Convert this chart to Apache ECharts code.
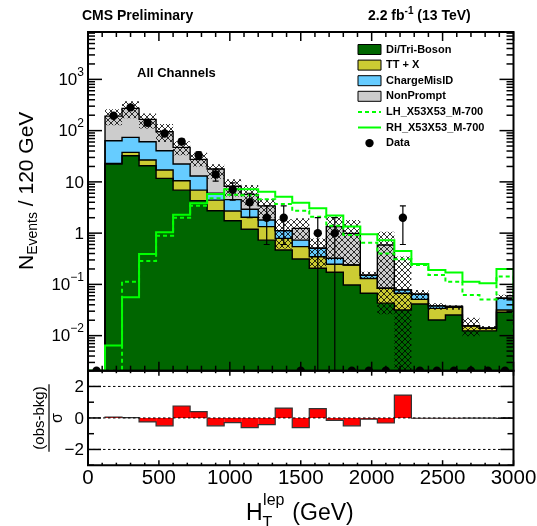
<!DOCTYPE html>
<html>
<head>
<meta charset="utf-8">
<script src="https://cdn.jsdelivr.net/npm/echarts@6.0.0/dist/echarts.min.js"></script>
<style>html,body{margin:0;padding:0;background:#fff;}#chart{width:537px;height:526px;}</style>
</head>
<body>
<div id="chart"></div>
<script>
// ---------------- data ----------------
const binEdges = [0,120,240,360,480,600,720,840,960,1080,1200,1320,1440,1560,1680,1800,1920,2040,2160,2280,2400,2520,2640,2760,2880,3000];
const diBoson     = [0,22.3,32.4,20.6,11.7,6.9,4.3,2.74,1.75,1.19,0.73,0.47,0.313,0.206,0.172,0.0975,0.067,0.043,0.0317,0.0415,0.0202,0.0253,0.0124,0.0124,0.0286];
const ttX         = [0,0.7,5.3,6.1,5.3,3.6,2.6,1.66,0.95,0.85,0.61,0.32,0.232,0.141,0.075,0.1415,0.063,0.041,0.0353,0.0095,0.0138,0.0104,0.0031,0.0015,0.0031];
const chargeMisID = [0,40.5,36.3,34,23.5,11.8,6.1,1.6,1.8,0.88,0.46,0.33,0.185,0.159,0.076,0,0.021,0,0.011,0.013,0.004,0.0013,0,0,0.0219];
const nonPrompt   = [0,128.5,198,105.3,54.5,24.9,14.5,11.8,3.7,2.78,1.6,0,0.51,0,1.017,0.751,0,0.503,0,0,0,0,0,0,0];
const bandLow     = [0,128,175,110,60,33,20,11.5,5.2,3.5,2.0,0.5,0.75,0.21,0.3,0.24,0.13,0.026,0,0.05,0.032,0.032,0.0097,0.013,0.05];
const bandHigh    = [0,260,375,215,135,62,37,22,11.3,8.7,4.6,1.86,1.95,0.79,2.1,1.8,0.177,1.07,0.35,0.078,0.043,0.039,0.0223,0.0155,0.0625];
const dataObs     = [0,195,284,142,88,61,33,14,7,4,2,2,0,1,1,0,0,0,2,0,0,0,0,0,0];
const dataErr     = [0,14,16.9,11.9,9.4,7.8,5.7,3.7,2.6,2,1.4,1.4,0,1,1,0,0,0,1.4,0,0,0,0,0,0];
const lhSignal    = [0,0,0.113,0.286,0.89,2.0,3.43,4.8,5.6,5.5,4.6,3.7,2.74,2.09,1.4,0.92,0.65,0.40,0.31,0.24,0.153,0.113,0.062,0.051,0.142];
const rhSignal    = [0,0.0064,0.056,0.39,1.04,2.29,3.82,5.8,7.2,7.2,6.4,5.1,3.9,3.05,2.2,1.34,0.95,0.73,0.45,0.25,0.19,0.17,0.113,0.105,0.2];
const pull        = [0,0.06,0.02,-0.25,-0.5,0.76,0.4,-0.5,-0.3,-0.61,-0.42,0.63,-0.61,0.59,-0.15,-0.5,-0.08,-0.32,1.45,-0.02,-0.02,-0.02,-0.01,-0.01,-0.03];

const xMajorTicks = [0,500,1000,1500,2000,2500,3000];
const xTickLabels = ['0','500','1000','1500','2000','2500','3000'];
const yMajorTicks = [0.01,0.1,1,10,100,1000];
const yTickBase   = ['10','10','1','10','10','10'];
const yTickExp    = ['\u22122','\u22121','','','2','3'];
const pullTicks   = [-2,0,2];
const pullMinor   = [-3,-1,1,3];
const pullLabels  = ['\u22122','0','2'];
const legendNames = ['Di/Tri-Boson','TT + X','ChargeMisID','NonPrompt','LH_X53X53_M-700','RH_X53X53_M-700','Data'];

// ---------------- helpers ----------------
const FONT = '"Liberation Sans", Arial, Helvetica, sans-serif';
const YMIN = 0.00207, YMAX = 8400;
const COL = {green:'#006600', yellow:'#cccc33', blue:'#66ccff', gray:'#cccccc', sig:'#00ff00'};
const mctx = document.createElement('canvas').getContext('2d');
function fnt(size, bold){ return (bold ? 'bold ' : '') + size + 'px ' + FONT; }
function tw(t, size, bold){ mctx.font = fnt(size, bold); return mctx.measureText(t).width; }
function ln(x1,y1,x2,y2,w,c,dash){ const s={stroke:c||'#000', lineWidth:w||1.5}; if(dash) s.lineDash=dash; return {type:'line', shape:{x1,y1,x2,y2}, style:s}; }
function tx(text,x,y,size,bold,align,va){ return {type:'text', x:x, y:y, style:{text:text, font:fnt(size,bold), fill:'#000', align:align||'left', verticalAlign:va||'middle', textAlign:align||'left', textVerticalAlign:va||'middle'}}; }

const hc = document.createElement('canvas'); hc.width = 6; hc.height = 6;
const hx = hc.getContext('2d'); hx.strokeStyle = '#000'; hx.lineWidth = 0.8;
hx.beginPath(); hx.moveTo(-1,-1); hx.lineTo(7,7); hx.moveTo(-1,7); hx.lineTo(7,-1); hx.stroke();
const hatch = {image: hc, repeat: 'repeat'};

const levelG   = diBoson.map(v => v);
const levelGY  = diBoson.map((v,i) => v + ttX[i]);
const levelGYB = levelGY.map((v,i) => v + chargeMisID[i]);
const levelT   = levelGYB.map((v,i) => v + nonPrompt[i]);
const stackLevels = [levelT, levelGYB, levelGY, levelG];
const stackColors = [COL.gray, COL.blue, COL.yellow, COL.green];
const clampY = v => Math.min(Math.max(v, YMIN), YMAX);

function stepPoints(api, arr, from){
  const pts = [api.coord([binEdges[from], YMIN])];
  for (let i = from; i < arr.length; i++){
    const y = clampY(arr[i]);
    pts.push(api.coord([binEdges[i], y]), api.coord([binEdges[i+1], y]));
  }
  pts.push(api.coord([binEdges[arr.length], YMIN]));
  return pts;
}

// ---------------- chart ----------------
const chart = echarts.init(document.getElementById('chart'), null, {renderer:'canvas', width:537, height:526});
const series = [];

// stacked fills
series.push({type:'custom', xAxisIndex:0, yAxisIndex:0, clip:true, z:2, silent:true,
  data: stackLevels.map((l,k)=>[k]),
  renderItem:(p, api)=>({type:'polygon', shape:{points: stepPoints(api, stackLevels[p.dataIndex], 1)}, style:{fill: stackColors[p.dataIndex]}})
});
// uncertainty band
series.push({type:'custom', xAxisIndex:0, yAxisIndex:0, clip:true, z:3, silent:true,
  data: bandLow.map((lo,i)=>[binEdges[i], binEdges[i+1], lo, bandHigh[i]]),
  renderItem:(p, api)=>{
    const hi = api.value(3); if (!(hi > 0)) return {type:'group', children:[]};
    const a = api.coord([api.value(0), clampY(api.value(2))]);
    const b = api.coord([api.value(1), clampY(hi)]);
    return {type:'rect', shape:{x:a[0], y:b[1], width:b[0]-a[0], height:a[1]-b[1]}, style:{fill: hatch}};
  }
});
// stack outlines
series.push({type:'custom', xAxisIndex:0, yAxisIndex:0, clip:true, z:4, silent:true,
  data: stackLevels.map((l,k)=>[k]),
  renderItem:(p, api)=>({type:'polyline', shape:{points: stepPoints(api, stackLevels[p.dataIndex], 1)}, style:{stroke:'#000', lineWidth:1.4, fill:null}})
});
// signals
const signals = [lhSignal, rhSignal];
series.push({type:'custom', xAxisIndex:0, yAxisIndex:0, clip:true, z:5, silent:true,
  data: signals.map((s,k)=>[k]),
  renderItem:(p, api)=>{
    const st = {stroke: COL.sig, lineWidth: 2, fill: null};
    if (p.dataIndex === 0) st.lineDash = [4,3];
    return {type:'polyline', shape:{points: stepPoints(api, signals[p.dataIndex], 0)}, style: st};
  }
});
// data points
series.push({type:'custom', xAxisIndex:0, yAxisIndex:0, clip:true, z:6, silent:true,
  data: dataObs.map((n,i)=>[(binEdges[i]+binEdges[i+1])/2, n, dataErr[i]]),
  renderItem:(p, api)=>{
    const x = api.value(0), n = api.value(1), e = api.value(2);
    const ch = [];
    if (n > 0){
      const c = api.coord([x, n]);
      const hiP = api.coord([x, n + e]);
      const lo = n - e;
      const loP = api.coord([x, lo > YMIN ? lo : YMIN]);
      ch.push(ln(c[0], hiP[1], c[0], loP[1], 1.2));
      ch.push(ln(c[0]-3, hiP[1], c[0]+3, hiP[1], 1.2));
      if (lo > YMIN) ch.push(ln(c[0]-3, loP[1], c[0]+3, loP[1], 1.2));
      ch.push({type:'circle', shape:{cx:c[0], cy:c[1], r:4.2}, style:{fill:'#000'}});
    } else {
      const c = api.coord([x, YMIN]);
      ch.push({type:'circle', shape:{cx:c[0], cy:c[1], r:4.2}, style:{fill:'#000'}});
    }
    return {type:'group', children: ch};
  }
});
// top frame, ticks, labels
series.push({type:'custom', xAxisIndex:0, yAxisIndex:0, clip:false, z:10, silent:true,
  data: [[1500, 1]],
  renderItem:(p, api)=>{
    const bl = api.coord([0, YMIN]), tr = api.coord([3000, YMAX]);
    const L = bl[0], B = bl[1], R = tr[0], T = tr[1];
    const ch = [];
    yMajorTicks.forEach((v, k)=>{
      const y = api.coord([0, v])[1];
      ch.push(ln(L, y, L+14, y), ln(R, y, R-14, y));
      const right = L - 4;
      if (yTickExp[k]){
        const ws = tw(yTickExp[k], 12);
        ch.push(tx(yTickBase[k], right - ws, y + 1, 17, false, 'right'));
        ch.push(tx(yTickExp[k], right - ws, y - 7, 12, false, 'left'));
      } else {
        ch.push(tx(yTickBase[k], right, y + 1, 17, false, 'right'));
      }
    });
    for (let e = -3; e <= 3; e++){
      for (let m = 2; m <= 9; m++){
        const v = m * Math.pow(10, e);
        if (v <= YMIN || v >= YMAX) continue;
        const y = api.coord([0, v])[1];
        ch.push(ln(L, y, L+7, y), ln(R, y, R-7, y));
      }
    }
    for (let v = 0; v <= 3000; v += 100){
      const x = api.coord([v, YMIN])[0];
      const len = (v % 500 === 0) ? 9 : 5;
      ch.push(ln(x, T, x, T+len), ln(x, B, x, B-len));
    }
    ch.push({type:'rect', shape:{x:L, y:T, width:R-L, height:B-T}, style:{fill:null, stroke:'#000', lineWidth:2}});
    return {type:'group', children: ch};
  }
});
// ratio bars
series.push({type:'custom', xAxisIndex:1, yAxisIndex:1, clip:true, z:2, silent:true,
  data: pull.map((v,i)=>[binEdges[i], binEdges[i+1], v]),
  renderItem:(p, api)=>{
    const v = api.value(2); if (v === 0) return {type:'group', children:[]};
    const a = api.coord([api.value(0), 0]), b = api.coord([api.value(1), v]);
    return {type:'rect', shape:{x:a[0], y:Math.min(a[1],b[1]), width:b[0]-a[0], height:Math.abs(a[1]-b[1])}, style:{fill:'#ff0000'}};
  }
});
// ratio outline
series.push({type:'custom', xAxisIndex:1, yAxisIndex:1, clip:true, z:3, silent:true,
  data: [[0]],
  renderItem:(p, api)=>{
    const pts = [api.coord([binEdges[1], 0])];
    for (let i = 1; i < pull.length; i++){ pts.push(api.coord([binEdges[i], pull[i]]), api.coord([binEdges[i+1], pull[i]])); }
    return {type:'polyline', shape:{points: pts}, style:{stroke:'#333', lineWidth:1.2, fill:null}};
  }
});
// ratio frame
series.push({type:'custom', xAxisIndex:1, yAxisIndex:1, clip:false, z:10, silent:true,
  data: [[1500, 0]],
  renderItem:(p, api)=>{
    const bl = api.coord([0, -3]), tr = api.coord([3000, 3]);
    const L = bl[0], B = bl[1], R = tr[0], T = tr[1];
    const ch = [];
    pullTicks.forEach((v, k)=>{
      const y = api.coord([0, v])[1];
      ch.push(ln(L, y, R, y, 1, '#000', [2.5, 2.5]));
      ch.push(ln(L, y, L+13, y), ln(R, y, R-13, y));
      ch.push(tx(pullLabels[k], L - 4, y + 1, 17, false, 'right'));
    });
    pullMinor.forEach(v=>{
      const y = api.coord([0, v])[1];
      ch.push(ln(L, y, L+6, y), ln(R, y, R-6, y));
    });
    for (let v = 0; v <= 3000; v += 100){
      const x = api.coord([v, 0])[0];
      const len = (v % 500 === 0) ? 5 : 2.5;
      ch.push(ln(x, T, x, T+len), ln(x, B, x, B-len));
    }
    xMajorTicks.forEach((v, k)=>{
      const x = api.coord([v, 0])[0];
      ch.push(tx(xTickLabels[k], x, B + 3, 20.5, false, 'center', 'top'));
    });
    ch.push({type:'rect', shape:{x:L, y:T, width:R-L, height:B-T}, style:{fill:null, stroke:'#000', lineWidth:2}});
    return {type:'group', children: ch};
  }
});

// ---------------- text / legend graphics ----------------
const g = [];
g.push(tx('CMS Preliminary', 82, 16, 14, true, 'left'));
{
  let x = 368;
  const a = '2.2 fb', s = '-1', c = ' (13 TeV)';
  g.push(tx(a, x, 16, 14, true, 'left')); x += tw(a, 14, true);
  g.push(tx(s, x, 11, 10, true, 'left')); x += tw(s, 10, true);
  g.push(tx(c, x, 16, 14, true, 'left'));
}
g.push(tx('All Channels', 137, 73, 13, true, 'left'));
// legend
const legY = [49.5, 65.1, 80.7, 96.3, 111.9, 127.5, 143.1];
const legFill = [COL.green, COL.yellow, COL.blue, COL.gray];
legendNames.forEach((name, k)=>{
  const cy = legY[k];
  if (k < 4){
    g.push({type:'rect', shape:{x:358, y:cy-5, width:23, height:10}, style:{fill:legFill[k], stroke:'#000', lineWidth:1}});
  } else if (k < 6){
    const st = {stroke:COL.sig, lineWidth:2};
    if (k === 4) st.lineDash = [4,3];
    g.push({type:'line', shape:{x1:358, y1:cy, x2:381, y2:cy}, style:st});
  } else {
    g.push({type:'circle', shape:{cx:369.5, cy:cy, r:4.2}, style:{fill:'#000'}});
  }
  g.push(tx(name, 386, cy, 11, true, 'left'));
});
// x title
{
  let x = 246;
  g.push(tx('H', x, 514, 23, false, 'left')); x += tw('H', 23);
  g.push(tx('lep', x + 0.5, 501, 16, false, 'left'));
  g.push(tx('T', x, 524, 16, false, 'left'));
  x += tw('lep', 16) + 2;
  g.push(tx(' (GeV)', x, 514, 23, false, 'left'));
}
// y title (rotated)
{
  const ch = [];
  let lx = 0;
  ch.push(tx('N', lx, 0, 21, false, 'left')); lx += tw('N', 21);
  ch.push(tx('Events', lx, 6, 14, false, 'left')); lx += tw('Events', 14);
  ch.push(tx(' / 120 GeV', lx, 0, 21, false, 'left'));
  g.push({type:'group', x:27, y:270, rotation:Math.PI/2, children: ch});
}
// ratio title (rotated fraction)
{
  const num = '(obs-bkg)';
  const w = tw(num, 15);
  const ch = [
    tx(num, 0, -9, 15, false, 'center'),
    {type:'line', shape:{x1:-w/2-2, y1:0, x2:w/2+2, y2:0}, style:{stroke:'#000', lineWidth:1.2}},
    tx('\u03C3', 0, 9, 16, false, 'center')
  ];
  g.push({type:'group', x:49, y:418, rotation:Math.PI/2, children: ch});
}

chart.setOption({
  animation: false,
  backgroundColor: '#fff',
  grid: [
    {left:88, top:32, width:425.5, height:338.7, show:false},
    {left:88, top:370.7, width:425.5, height:94.5, show:false}
  ],
  xAxis: [
    {gridIndex:0, type:'value', min:0, max:3000, show:false},
    {gridIndex:1, type:'value', min:0, max:3000, show:false}
  ],
  yAxis: [
    {gridIndex:0, type:'log', logBase:10, min:YMIN, max:YMAX, show:false},
    {gridIndex:1, type:'value', min:-3, max:3, show:false}
  ],
  series: series,
  graphic: {elements: g.map(e => Object.assign({z:100}, e))}
});
</script>
</body>
</html>
